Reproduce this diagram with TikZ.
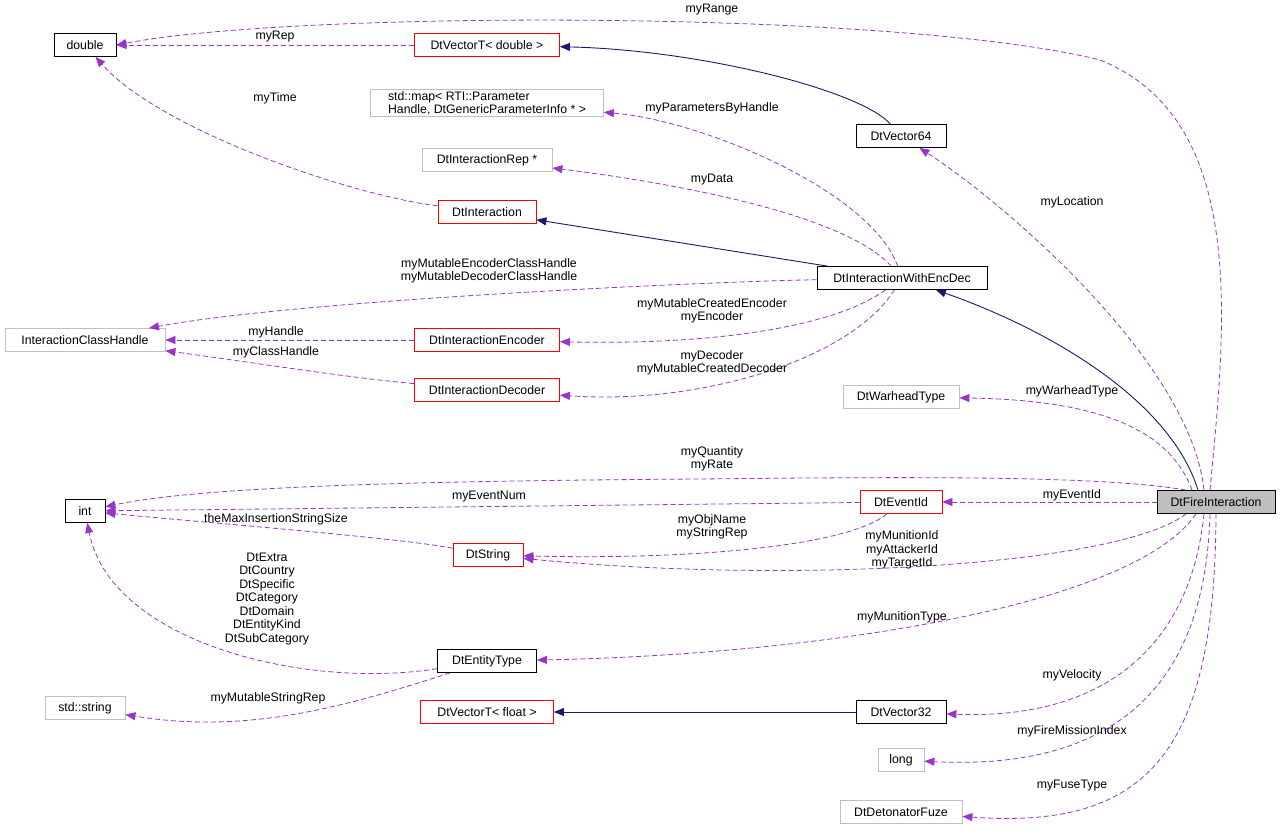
\documentclass[tikz,border=0pt]{standalone}
\usepackage{fontspec}
\setmainfont{Liberation Sans}
\usetikzlibrary{arrows.meta}
\definecolor{dep}{HTML}{9A32CD}
\definecolor{inh}{HTML}{191970}
\definecolor{gbox}{HTML}{BFBFBF}
\begin{document}
\begin{tikzpicture}[x=1pt,y=-1pt,font=\fontsize{12.3}{13}\selectfont,
 box/.style={draw,rectangle,minimum height=23pt,inner xsep=5pt,inner ysep=2pt,fill=white,line width=0.8pt},
 blk/.style={box,draw=black},
 red/.style={box,draw=red},
 gry/.style={box,draw=gbox},
 dep/.style={draw=dep,dashed,dash pattern=on 5pt off 3pt,line width=0.8pt,-{Triangle[length=10pt,width=8pt]},color=dep},
 inh/.style={draw=inh,line width=0.9pt,-{Triangle[length=10pt,width=8pt]},color=inh},
 lbl/.style={align=center,inner sep=0pt,font=\fontsize{12.3}{13.5}\selectfont}]
\useasboundingbox (0,0) rectangle (1283,835);
\node[blk,minimum width=62pt] (double) at (85,45) {double};
\node[red,minimum width=145pt] (vecD) at (487,45) {DtVectorT< double >};
\node[gry,minimum width=233pt,align=left] (map) at (487,103) {std::map< RTI::Parameter\\Handle, DtGenericParameterInfo * >};
\node[gry,minimum width=130pt] (rep) at (487,160) {DtInteractionRep *};
\node[red,minimum width=98pt] (dint) at (487,212) {DtInteraction};
\node[blk,minimum width=90pt] (v64) at (901,136) {DtVector64};
\node[blk,minimum width=170pt] (iwed) at (902,278) {DtInteractionWithEncDec};
\node[gry,minimum width=160pt] (ich) at (85,340) {InteractionClassHandle};
\node[red,minimum width=145pt] (enc) at (487,340) {DtInteractionEncoder};
\node[red,minimum width=145pt] (dec) at (487,390) {DtInteractionDecoder};
\node[gry,minimum width=116pt] (war) at (901,397) {DtWarheadType};
\node[blk,minimum width=40pt] (int) at (85,511) {int};
\node[red,minimum width=82pt] (evid) at (901,502) {DtEventId};
\node[blk,minimum width=118pt,fill=gbox] (F) at (1216,502) {DtFireInteraction};
\node[red,minimum width=70pt] (str) at (488,555) {DtString};
\node[blk,minimum width=99pt] (ent) at (487,661) {DtEntityType};
\node[gry,minimum width=80pt] (sstr) at (85,708) {std::string};
\node[red,minimum width=133pt] (vecF) at (487,712) {DtVectorT< float >};
\node[blk,minimum width=90pt] (v32) at (901,712) {DtVector32};
\node[gry,minimum width=46pt] (long) at (901,760) {long};
\node[gry,minimum width=122pt] (fuze) at (901,812) {DtDetonatorFuze};
% connectors
\draw[dep] ([xshift=-6pt]F.north) .. controls (1225,330) and (1250,120) .. (1100,60) .. controls (900,10) and (300,10) .. (double.east);
\draw[dep] (dint) .. controls (350,195) and (160,130) .. (double);
\draw[dep] (vecD) -- (double);
\draw[inh] (v64) .. controls (860,90) and (700,50) .. (vecD);
\draw[dep] ([xshift=-12pt]F.north) .. controls (1190,360) and (1000,200) .. (v64);
\draw[dep] (iwed) .. controls (870,190) and (700,120) .. (map);
\draw[dep] (iwed) .. controls (840,210) and (650,180) .. (rep);
\draw[inh] (iwed) -- (dint);
\draw[dep] (iwed) .. controls (700,282) and (300,300) .. (ich);
\draw[inh] ([xshift=-18pt]F.north) .. controls (1170,400) and (1050,330) .. (iwed);
\draw[dep] (iwed) .. controls (830,330) and (700,345) .. (enc);
\draw[dep] (enc) -- (ich);
\draw[dep] (dec) .. controls (350,378) and (250,362) .. (ich);
\draw[dep] (iwed) .. controls (850,360) and (700,405) .. (dec);
\draw[dep] ([xshift=-24pt]F.north) .. controls (1170,430) and (1100,400) .. (war);
\draw[dep] ([xshift=-30pt]F.north) .. controls (1100,475) and (900,477) .. (700,479) .. controls (400,481) and (200,487) .. (int);
\draw[dep] (evid) -- (int);
\draw[dep] (F) -- (evid);
\draw[dep] (evid) .. controls (850,545) and (700,560) .. (str);
\draw[dep] (str) .. controls (400,538) and (200,522) .. (int);
\draw[dep] ([xshift=-30pt]F.south) .. controls (1120,565) and (800,585) .. (str);
\draw[dep] (ent) .. controls (300,690) and (110,640) .. (int);
\draw[dep] ([xshift=-20pt]F.south) .. controls (1130,610) and (800,655) .. (ent);
\draw[dep] (ent) .. controls (350,705) and (250,735) .. (sstr);
\draw[inh] (v32) -- (vecF);
\draw[dep] ([xshift=-12pt]F.south) .. controls (1190,650) and (1100,720) .. (v32);
\draw[dep] ([xshift=-6pt]F.south) .. controls (1205,700) and (1100,770) .. (long);
\draw[dep] (F.south) .. controls (1215,750) and (1150,830) .. (fuze);
% labels
\node[lbl] (l1) at (712,10) {myRange};
\node[lbl] (l2) at (275,37) {myRep};
\node[lbl] (l3) at (275,98) {myTime};
\node[lbl] (l4) at (712,108) {myParametersByHandle};
\node[lbl] (l5) at (712,180) {myData};
\node[lbl] (l6) at (1072,202) {myLocation};
\node[lbl] (l7) at (489,271) {myMutableEncoderClassHandle\\myMutableDecoderClassHandle};
\node[lbl] (l8) at (712,311) {myMutableCreatedEncoder\\myEncoder};
\node[lbl] (l9) at (276,332) {myHandle};
\node[lbl] (l10) at (276,352) {myClassHandle};
\node[lbl] (l11) at (712,363) {myDecoder\\myMutableCreatedDecoder};
\node[lbl] (l12) at (1072,391) {myWarheadType};
\node[lbl] (l13) at (712,459) {myQuantity\\myRate};
\node[lbl] (l14) at (489,497) {myEventNum};
\node[lbl] (l15) at (1072,495) {myEventId};
\node[lbl] (l16) at (712,527) {myObjName\\myStringRep};
\node[lbl] (l17) at (276,519) {theMaxInsertionStringSize};
\node[lbl] (l18) at (902,550) {myMunitionId\\myAttackerId\\myTargetId};
\node[lbl] (l19) at (267,599) {DtExtra\\DtCountry\\DtSpecific\\DtCategory\\DtDomain\\DtEntityKind\\DtSubCategory};
\node[lbl] (l20) at (902,617) {myMunitionType};
\node[lbl] (l21) at (268,698) {myMutableStringRep};
\node[lbl] (l22) at (1072,675) {myVelocity};
\node[lbl] (l23) at (1072,731) {myFireMissionIndex};
\node[lbl] (l24) at (1072,786) {myFuseType};
\end{tikzpicture}
\end{document}
